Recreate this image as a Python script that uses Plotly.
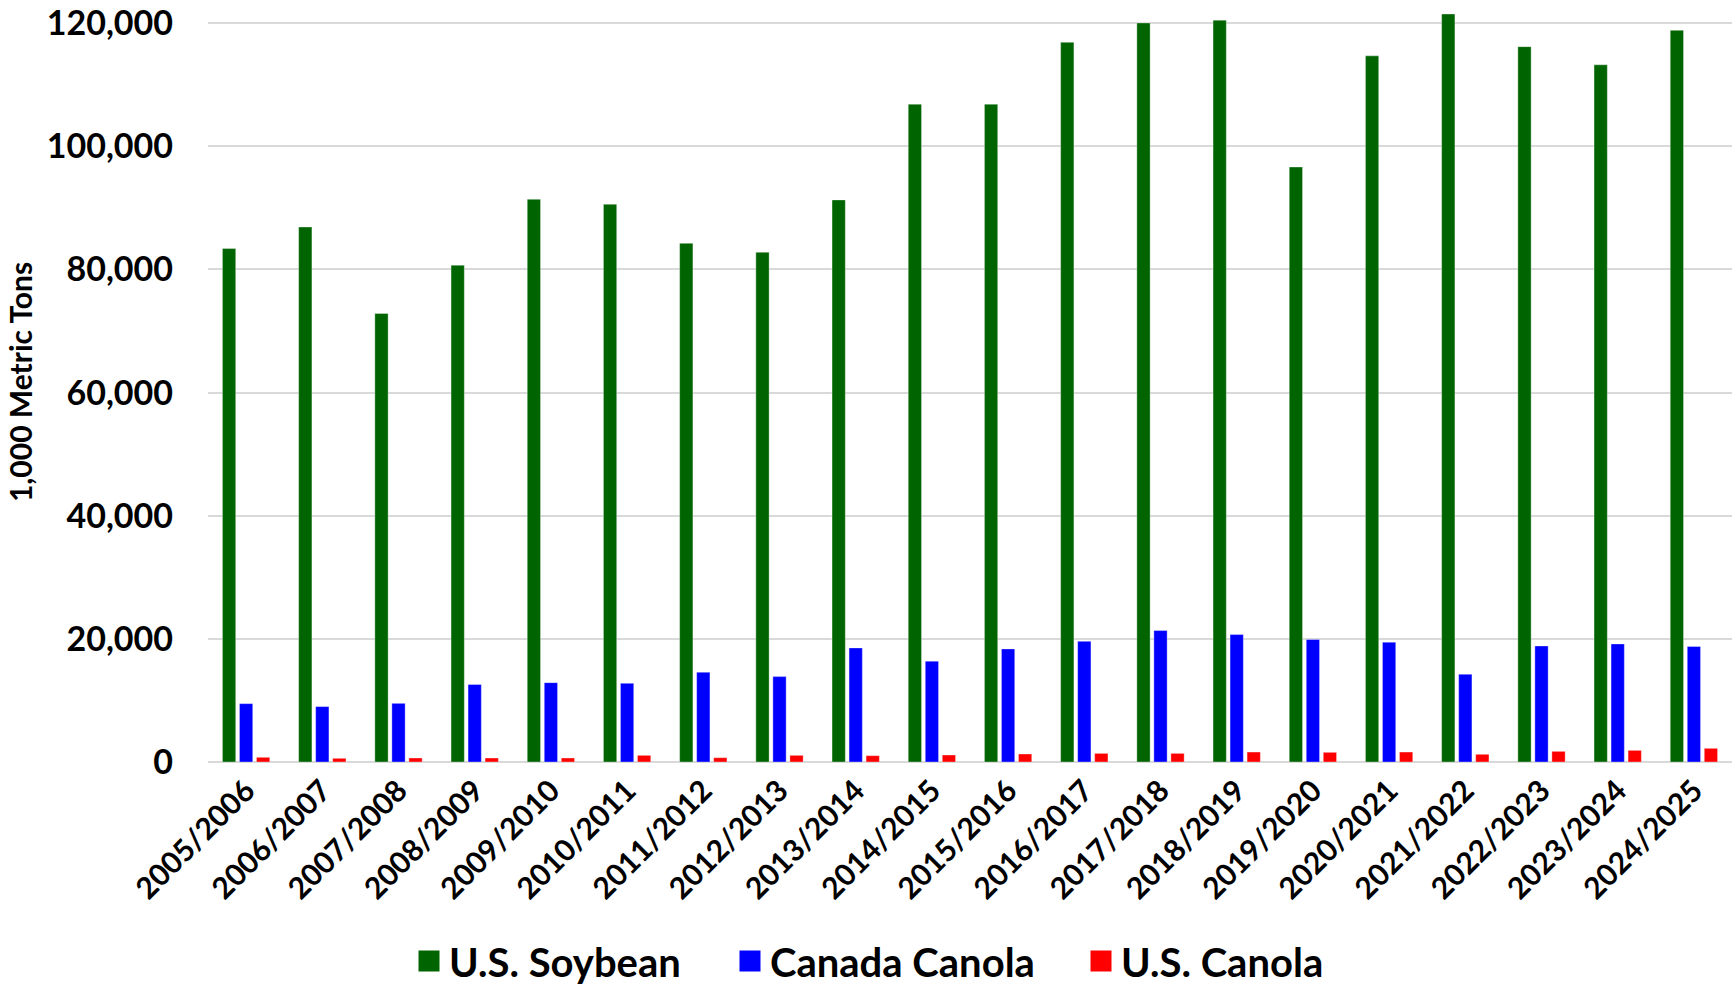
import plotly.graph_objects as go

years = ["2005/2006", "2006/2007", "2007/2008", "2008/2009", "2009/2010",
         "2010/2011", "2011/2012", "2012/2013", "2013/2014", "2014/2015",
         "2015/2016", "2016/2017", "2017/2018", "2018/2019", "2019/2020",
         "2020/2021", "2021/2022", "2022/2023", "2023/2024", "2024/2025"]

us_soybean = [83400, 86900, 72860, 80700, 91400, 90600, 84250, 82800, 91300, 106850,
              106850, 116900, 120050, 120500, 96650, 114700, 121500, 116200, 113250, 118850]

canada_canola = [9480, 9000, 9530, 12600, 12890, 12780, 14580, 13870, 18530, 16380,
                 18370, 19600, 21350, 20700, 19900, 19460, 14250, 18850, 19180, 18760]

us_canola = [760, 600, 650, 650, 650, 1080, 700, 1080, 1030, 1140,
             1300, 1400, 1400, 1620, 1570, 1620, 1250, 1730, 1890, 2220]

series_names = ["U.S. Soybean", "Canada Canola", "U.S. Canola"]
series_values = [us_soybean, canada_canola, us_canola]
series_colors = ["#006400", "#0000FF", "#FF0000"]

y_ticks = [0, 20000, 40000, 60000, 80000, 100000, 120000]

FONT = "Lato"
W, H = 1733, 986

fig = go.Figure()
for name, vals, col in zip(series_names, series_values, series_colors):
    fig.add_trace(go.Bar(
        x=years, y=vals, name=name, showlegend=False,
        marker=dict(color=col, line=dict(color="rgba(255,255,255,0.35)", width=1)),
    ))

legend_ids = ["legend", "legend2", "legend3"]
for name, col, lid in zip(series_names, series_colors, legend_ids):
    fig.add_trace(go.Scatter(
        x=[None], y=[None], mode="markers", name=name, legend=lid,
        marker=dict(symbol="square", size=16, color=col, line=dict(color=col, width=5)),
        hoverinfo="skip",
    ))

legend_style = dict(
    orientation="h", xref="container", yref="container", yanchor="middle",
    xanchor="left", y=1 - 961 / H, bgcolor="rgba(0,0,0,0)", borderwidth=0,
    font=dict(family=FONT, size=40, color="#000000", weight="bold"),
)

fig.update_layout(
    width=W, height=H,
    paper_bgcolor="white", plot_bgcolor="white",
    barmode="group", bargap=0.33, bargroupgap=0.22,
    margin=dict(l=208, r=1, t=2, b=224, autoexpand=False),
    font=dict(family=FONT, color="#000000"),
    legend=dict(legend_style, x=409 / W),
    legend2=dict(legend_style, x=730 / W),
    legend3=dict(legend_style, x=1081 / W),
    xaxis=dict(
        type="category", tickangle=-45, showgrid=False, showline=False, ticks="",
        tickfont=dict(family=FONT, size=30, color="#000000", weight="bold"),
        ticklabelstandoff=4,
        automargin=False,
    ),
    yaxis=dict(
        range=[0, 123450], tickvals=y_ticks, tickformat=",",
        showgrid=True, gridcolor="#d9d9d9", gridwidth=1.5,
        zeroline=True, zerolinecolor="#d9d9d9", zerolinewidth=1.5,
        showline=False, ticks="", ticklabelstandoff=34, ticklabeloverflow="allow",
        tickfont=dict(family=FONT, size=34, color="#000000", weight="bold"),
        title=dict(text="1,000 Metric Tons", standoff=5,
                   font=dict(family=FONT, size=30, color="#000000", weight="bold")),
        automargin=False,
    ),
)

fig.write_html("out.html", config={"displayModeBar": False},
               post_script="document.body.style.margin='0';document.documentElement.style.overflow='hidden';")
